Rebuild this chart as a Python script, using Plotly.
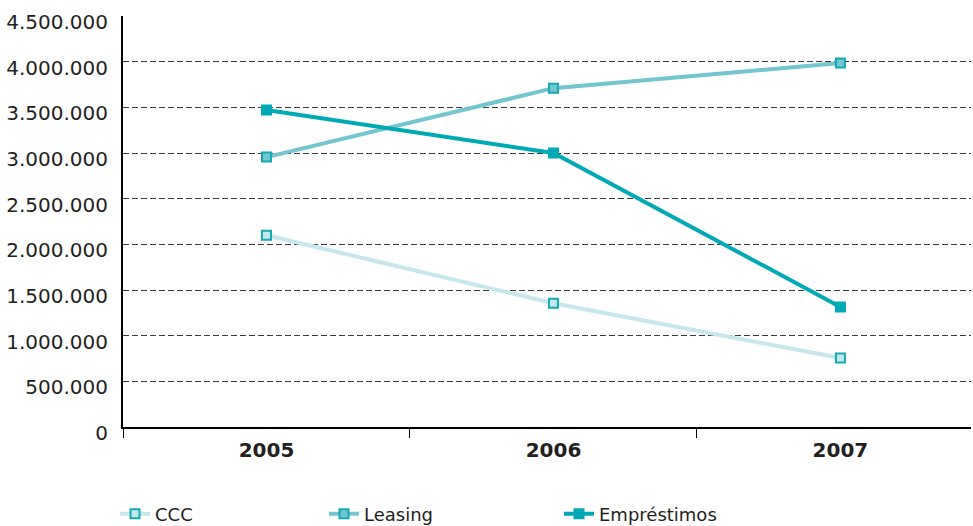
import plotly.graph_objects as go

years = ["2005", "2006", "2007"]
ccc = [2100000, 1355000, 755000]
leasing = [2955000, 3710000, 3985000]
emprestimos = [3470000, 3000000, 1315000]
y_ticks = [0, 500000, 1000000, 1500000, 2000000, 2500000, 3000000, 3500000, 4000000, 4500000]
y_tick_text = ["0", "500.000", "1.000.000", "1.500.000", "2.000.000", "2.500.000",
               "3.000.000", "3.500.000", "4.000.000", "4.500.000"]

xpos = list(range(len(years)))
FONT = "DejaVu Sans"
TXT = "#231f20"

fig = go.Figure()
series = [
    ("CCC", ccc, "#c6e7eb", "#c6e7eb", "#17a8b6", "legend"),
    ("Leasing", leasing, "#72c6cf", "#72c6cf", "#17a8b6", "legend2"),
    ("Empréstimos", emprestimos, "#00a9b6", "#00a9b6", "#00a9b6", "legend3"),
]
for name, vals, lc, fc, bc, lg in series:
    fig.add_trace(go.Scatter(
        x=xpos, y=vals, name=name, mode="lines+markers",
        line=dict(color=lc, width=4),
        marker=dict(symbol="square", size=9, color=fc, line=dict(color=bc, width=2)),
        legend=lg, showlegend=True,
    ))

leg_common = dict(orientation="h", yanchor="middle", xanchor="left", y=0.0228,
                  xref="container", yref="container",
                  font=dict(family=FONT, size=18, color=TXT), bgcolor="rgba(0,0,0,0)",
                  itemwidth=30)
fig.update_layout(
    width=973, height=526, showlegend=True,
    margin=dict(l=123, r=2, t=16, b=99),
    plot_bgcolor="white", paper_bgcolor="white",
    font=dict(family=FONT, size=20, color=TXT),
    legend=dict(x=0.1182, **leg_common),
    legend2=dict(x=0.333, **leg_common),
    legend3=dict(x=0.5745, **leg_common),
    xaxis=dict(
        range=[-0.5, 2.455], tickvals=xpos, ticktext=years, automargin=False,
        tickfont=dict(family=FONT, size=20, color=TXT, weight="bold"),
        showline=True, linecolor="black", linewidth=2, showgrid=False,
        ticks="", ticklabelstandoff=4, zeroline=False,
        minor=dict(tick0=0.5, dtick=1, ticks="outside", ticklen=9, tickcolor="black", tickwidth=1),
    ),
    yaxis=dict(
        range=[0, 4500000], tickvals=y_ticks, ticktext=y_tick_text, automargin=False,
        showline=True, linecolor="black", linewidth=2,
        showgrid=True, gridcolor="#3a3a3a", gridwidth=1, griddash="6px,3px",
        zeroline=False, ticks="", ticklabelstandoff=9, ticklabelshift=6,
    ),
)
fig.write_html("out.html", config={"displayModeBar": False},
               post_script="document.body.style.margin='0';document.body.style.overflow='hidden';")
